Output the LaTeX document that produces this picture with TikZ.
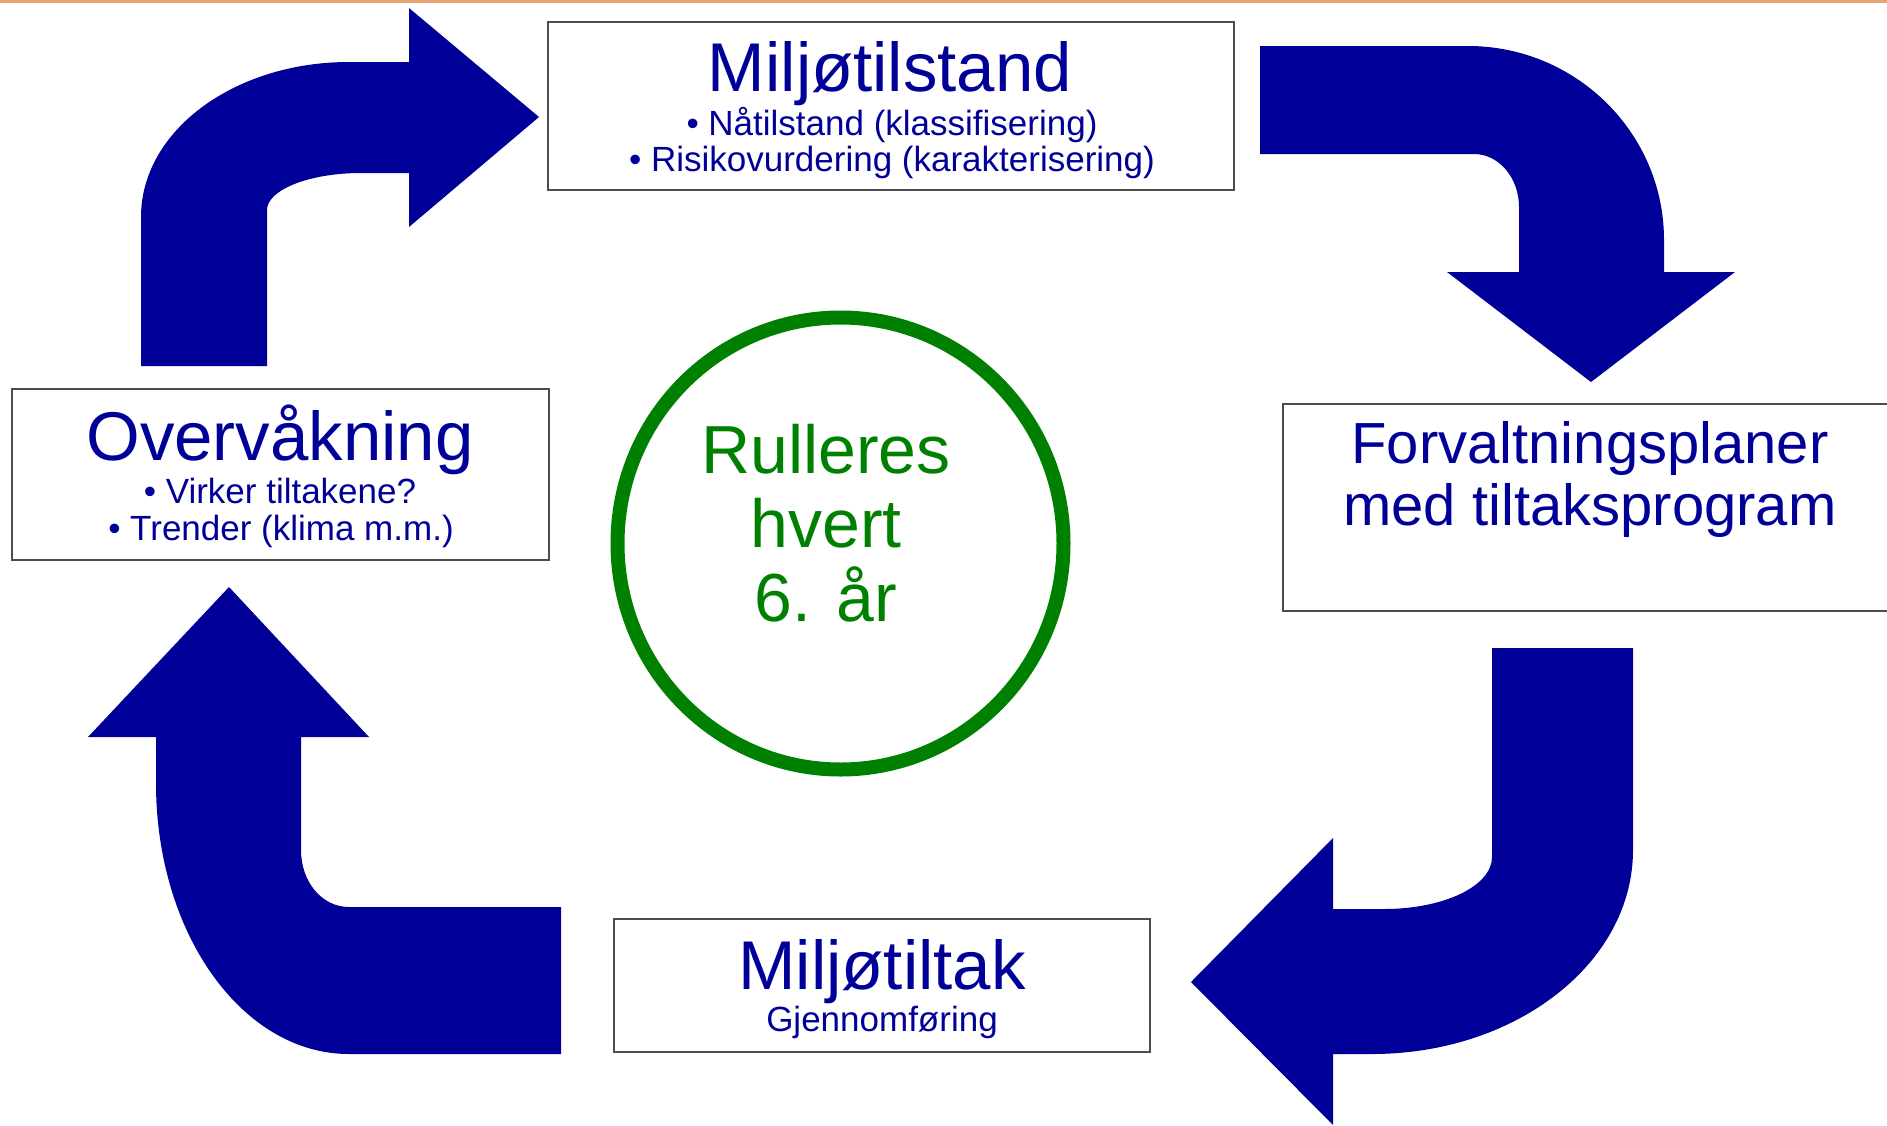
\documentclass[tikz,border=0pt]{standalone}
\usepackage{fontspec}
\setmainfont{Liberation Sans}
\usetikzlibrary{shapes.geometric}
\definecolor{navy}{RGB}{0,0,153}
\definecolor{ringgreen}{RGB}{0,128,0}
\definecolor{topline}{RGB}{228,165,115}
\begin{document}
\begin{tikzpicture}[x=1pt,y=-1pt,
  boxnode/.style={draw=black!70, line width=2.5pt, fill=white, inner sep=0pt},
  blockarrow/.style={fill=navy},
  bigtext/.style={text=navy, inner sep=0pt, anchor=base, font=\fontsize{69}{80}\selectfont},
  midtext/.style={text=navy, inner sep=0pt, anchor=base, font=\fontsize{58}{66}\selectfont},
  subtext/.style={text=navy, inner sep=0pt, anchor=base, font=\fontsize{35}{40}\selectfont},
  ringtext/.style={text=ringgreen, inner sep=0pt, anchor=base, font=\fontsize{68}{78}\selectfont},
  ring/.style={ellipse, draw=ringgreen, line width=14pt, inner sep=0pt}
]
\useasboundingbox (0,0) rectangle (1887,1125);
\fill[white] (0,0) rectangle (1887,1125);
\fill[topline] (0,0) rectangle (1887,3);

% block arrows
\fill[blockarrow] (141,366) -- (141,217) .. controls (141,131) and (234,62) .. (349,62)
  -- (409,62) -- (409,8) -- (539,117) -- (409,227) -- (409,173) -- (361,173)
  .. controls (309,173) and (267,190) .. (267,210) -- (267,366) -- cycle;
\fill[blockarrow] (1260,46) -- (1468,46) .. controls (1576,46) and (1664,133) .. (1664,240)
  -- (1664,272) -- (1735,272) -- (1591,382) -- (1447,272) -- (1519,272) -- (1519,207)
  .. controls (1519,178) and (1499,154) .. (1474,154) -- (1260,154) -- cycle;
\fill[blockarrow] (1492,648) -- (1633,648) -- (1633,850) .. controls (1633,963) and (1516,1054) .. (1372,1054)
  -- (1333,1054) -- (1333,1125) -- (1191,982) -- (1333,838) -- (1333,909) -- (1384,909)
  .. controls (1444,909) and (1492,886) .. (1492,857) -- cycle;
\fill[blockarrow] (561,907) -- (349,907) .. controls (322,907) and (301,882) .. (301,850)
  -- (301,737) -- (369,737) -- (229,587) -- (88,737) -- (156,737) -- (156,783)
  .. controls (156,933) and (242,1054) .. (349,1054) -- (561,1054) -- cycle;

% boxes
\node[boxnode, minimum width=686pt, minimum height=168pt] (tilstand) at (891,106) {};
\node[boxnode, minimum width=537pt, minimum height=171pt] (overvak) at (280.5,474.5) {};
\node[boxnode, minimum width=617pt, minimum height=207pt] (forvalt) at (1591.5,507.5) {};
\node[boxnode, minimum width=536pt, minimum height=133pt] (tiltak) at (882,985.5) {};

% ring
\node[ring, minimum width=446pt, minimum height=452pt] (cycle) at (840.5,543.5) {};

% texts
\node[bigtext] (t1) at (890,91) {Miljøtilstand};
\node[subtext] (t1a) at (892,135) {• Nåtilstand (klassifisering)};
\node[subtext] (t1b) at (892,171) {• Risikovurdering (karakterisering)};

\node[bigtext] (t2) at (280,460) {Overvåkning};
\node[subtext] (t2a) at (280,503) {• Virker tiltakene?};
\node[subtext] (t2b) at (281,540) {• Trender (klima m.m.)};

\node[midtext] (t3) at (1590,463) {Forvaltningsplaner};
\node[midtext] (t3a) at (1590,525) {med tiltaksprogram};

\node[bigtext] (t4) at (882,989) {Miljøtiltak};
\node[subtext] (t4a) at (882,1031) {Gjennomføring};

\node[ringtext] (r1) at (826,473) {Rulleres};
\node[ringtext] (r2) at (826,547) {hvert};
\node[ringtext] (r3) at (826,621) {6. år};
\end{tikzpicture}
\end{document}
